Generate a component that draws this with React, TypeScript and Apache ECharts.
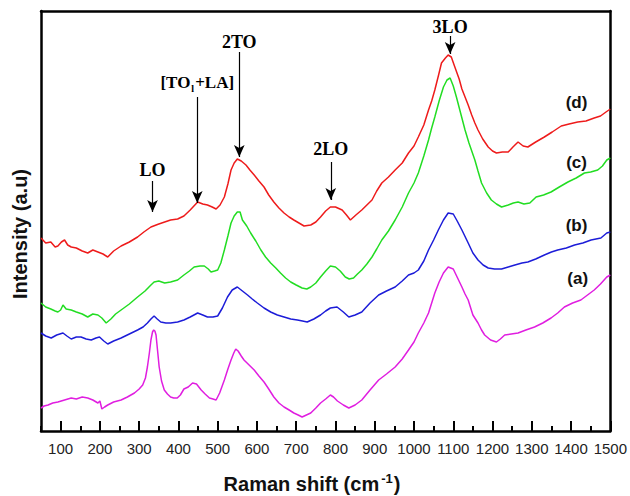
import React, { useEffect, useRef } from 'react';
import * as echarts from 'echarts';

// Raman shift (cm-1) vs. intensity (arbitrary units, curves offset vertically)
const curveD: number[][] = [[50,193],[62,188],[75,189],[86,184],[93,185],[102,189],[110,191],[118,186],[127,184],[140,183],[155,180],[169,178],[182,181],[195,179],[208,177],[220,174],[235,180],[254,185],[275,189],[296,194],[312,199],[330,204],[350,207],[365,209],[380,211],[398,212],[414,215],[430,221],[449,229],[462,227],[474,226],[486,224],[496,222],[506,226],[517,234],[526,247],[534,261],[542,268],[550,272],[560,270],[572,266],[582,261],[593,256],[605,250],[618,244],[630,236],[643,229],[656,223],[669,218],[682,214],[694,211],[707,208],[720,205],[737,206],[750,209],[762,214],[775,220],[787,224],[800,224],[817,221],[828,216],[838,211],[852,216],[867,221],[880,226],[893,231],[905,240],[918,248],[935,254],[952,261],[970,268],[986,278],[1000,285],[1011,294],[1025,306],[1037,321],[1045,330],[1053,341],[1062,355],[1070,368],[1080,373],[1087,376],[1095,374],[1104,364],[1115,352],[1122,342],[1130,334],[1138,326],[1147,316],[1155,308],[1163,301],[1175,292],[1189,284],[1200,280],[1210,278],[1225,279],[1240,279],[1252,284],[1265,289],[1278,285],[1290,284],[1310,289],[1332,294],[1352,299],[1375,305],[1395,307],[1417,309],[1438,310],[1459,313],[1475,315],[1489,319],[1500,322]];

const curveC: number[][] = [[50,128],[62,124],[75,122],[86,120],[93,119],[100,121],[106,126],[114,122],[127,121],[140,119],[155,117],[169,114],[182,117],[195,116],[205,113],[216,108],[228,112],[240,117],[254,121],[275,127],[296,134],[315,140],[330,146],[338,149],[350,150],[365,148],[380,149],[398,151],[414,156],[428,160],[440,164],[455,165],[466,165],[476,162],[483,159],[492,160],[500,161],[508,168],[517,181],[526,195],[534,208],[542,215],[550,219],[557,219],[563,211],[574,205],[584,198],[597,190],[610,181],[622,174],[635,168],[648,163],[660,158],[673,153],[686,149],[700,146],[715,143],[727,142],[737,144],[750,148],[762,154],[775,160],[787,165],[800,164],[812,160],[825,154],[835,152],[846,153],[856,157],[867,161],[880,167],[893,174],[905,182],[918,191],[935,200],[952,211],[970,224],[986,238],[1000,248],[1011,258],[1025,275],[1037,291],[1045,303],[1053,314],[1064,330],[1075,344],[1084,351],[1092,353],[1100,345],[1108,334],[1120,316],[1130,301],[1140,288],[1155,271],[1163,260],[1172,248],[1185,238],[1197,231],[1210,227],[1223,224],[1240,226],[1253,228],[1265,229],[1280,227],[1295,228],[1311,234],[1330,236],[1349,239],[1370,244],[1392,249],[1413,253],[1434,258],[1450,259],[1468,261],[1480,265],[1491,271],[1500,273]];

const curveB: number[][] = [[50,98],[62,95],[76,93],[90,96],[106,98],[116,95],[127,92],[140,94],[152,94],[165,92],[178,91],[190,93],[199,94],[210,90],[220,87],[235,90],[254,93],[275,97],[296,101],[310,104],[321,108],[330,112],[338,115],[346,112],[355,109],[368,108],[380,108],[398,109],[414,111],[430,114],[449,118],[462,116],[474,114],[488,114],[500,115],[512,123],[525,134],[537,141],[550,144],[563,140],[576,136],[588,132],[601,128],[618,123],[635,119],[652,116],[669,114],[686,112],[703,111],[716,110],[728,109],[745,112],[762,116],[775,120],[787,123],[804,124],[820,119],[834,114],[850,116],[867,119],[888,128],[910,136],[930,140],[952,144],[970,150],[986,156],[1000,158],[1011,161],[1025,170],[1037,181],[1050,191],[1062,201],[1075,211],[1087,218],[1100,217],[1110,210],[1122,201],[1138,188],[1150,178],[1163,171],[1176,166],[1189,163],[1205,162],[1223,162],[1240,164],[1257,166],[1275,168],[1290,169],[1310,172],[1332,176],[1350,179],[1366,181],[1388,183],[1409,186],[1430,188],[1451,191],[1476,193],[1491,198],[1500,199]];

const curveA: number[][] = [[50,23],[58,25],[68,26],[80,28],[93,29],[110,31],[127,33],[140,32],[155,34],[169,33],[182,31],[195,28],[200,30],[205,22],[212,24],[220,26],[235,29],[254,31],[270,34],[288,38],[300,42],[309,46],[316,53],[321,64],[326,78],[330,91],[334,99],[337,101],[340,100],[343,96],[347,80],[351,64],[357,50],[364,41],[372,37],[380,34],[388,33],[397,33],[405,36],[414,42],[425,44],[436,48],[446,47],[458,41],[468,37],[479,33],[488,32],[496,31],[505,38],[517,51],[526,62],[534,71],[541,78],[546,82],[552,80],[560,75],[567,71],[580,66],[593,61],[605,55],[618,49],[630,42],[643,34],[656,28],[669,24],[682,21],[694,18],[705,16],[715,14],[726,16],[737,18],[750,23],[762,28],[775,32],[787,36],[795,34],[805,30],[820,26],[834,23],[850,26],[867,31],[888,41],[910,51],[930,57],[952,64],[970,72],[986,81],[1000,89],[1011,98],[1025,108],[1037,118],[1045,128],[1053,138],[1064,149],[1075,158],[1087,164],[1100,162],[1111,153],[1122,144],[1130,137],[1138,131],[1150,116],[1163,108],[1172,101],[1180,96],[1195,91],[1210,89],[1220,92],[1231,96],[1248,97],[1265,98],[1285,101],[1307,104],[1328,108],[1349,113],[1366,118],[1383,124],[1404,128],[1425,131],[1442,136],[1459,141],[1475,147],[1491,154],[1500,156]];

const majorTickValues = [100, 200, 300, 400, 500, 600, 700, 800, 900, 1000, 1100, 1200, 1300, 1400, 1500];

const peakLabels = ['LO', '{a|[TO}{s|l}{a|+LA]}', '2TO', '2LO', '3LO'];
const peakX = [334, 448, 555, 788, 1092];
const peakTextY = [261, 349, 389, 282, 404];
const arrowTopY = [250, 334, 379, 269, 395];
const arrowTipY = [219, 228, 274, 231, 377];

const curveNames = ['(d)', '(c)', '(b)', '(a)'];
const curveNameX = [1414, 1414, 1414, 1417];
const curveNameY = [329, 269, 206, 153];

const SERIF = '"Liberation Serif", "Times New Roman", serif';
const SANS = '"Liberation Sans", Arial, sans-serif';

// y axis spans 420 units over a 420 px tall plot, so this length is in px
const MAJOR_TICK_LEN = 10;

export default function App() {
  const ref = useRef<HTMLDivElement>(null);
  useEffect(() => {
    if (!ref.current) return;
    const chart = echarts.init(ref.current, undefined, { renderer: 'svg' });
    const lineSeries = (name: string, data: number[][], color: string) => ({
      name,
      type: 'line',
      data,
      showSymbol: false,
      symbol: 'none',
      lineStyle: { color, width: 1.5 },
      silent: true,
    });
    const annotationText = {
      fontFamily: SERIF,
      fontWeight: 'bold',
      fontSize: 18,
      color: '#000',
    };
    const frameLine = { show: true, onZero: false, lineStyle: { color: '#000', width: 2.5 } };
    const hidden = {
      axisTick: { show: false },
      axisLabel: { show: false },
      splitLine: { show: false },
    };
    chart.setOption({
      animation: false,
      grid: { left: 41, top: 11, right: 19, bottom: 65 },
      xAxis: [
        {
          type: 'value',
          min: 50,
          max: 1500,
          interval: 50,
          axisLine: frameLine,
          axisTick: { show: true, inside: true, length: 5, lineStyle: { color: '#000', width: 2 } },
          axisLabel: {
            show: true,
            customValues: majorTickValues,
            formatter: (v: number) => String(v),
            fontFamily: SANS,
            fontSize: 15,
            color: '#222',
            margin: 10,
          },
          splitLine: { show: false },
        },
        { type: 'value', min: 50, max: 1500, position: 'top', axisLine: frameLine, ...hidden },
      ],
      yAxis: [
        { type: 'value', min: 0, max: 420, position: 'left', axisLine: frameLine, ...hidden },
        { type: 'value', min: 0, max: 420, position: 'right', axisLine: frameLine, ...hidden },
      ],
      series: [
        {
          ...lineSeries('(d)', curveD, '#ee1b1b'),
          markLine: {
            silent: true,
            symbol: ['none', 'arrow'],
            symbolSize: [8, 12],
            lineStyle: { color: '#000', width: 1.2, type: 'solid' },
            label: { show: false },
            data: peakX.map((x, i) => [
              { coord: [x, arrowTopY[i]] },
              { coord: [x, arrowTipY[i]] },
            ]),
          },
          markPoint: {
            silent: true,
            symbol: 'circle',
            symbolSize: 0,
            data: [
              ...peakX.map((x, i) => ({
                coord: [x, peakTextY[i]],
                label: {
                  show: true,
                  position: 'inside',
                  formatter: peakLabels[i],
                  ...annotationText,
                  fontSize: i === 1 ? 17 : 18,
                  rich: {
                    a: { ...annotationText, fontSize: 17 },
                    s: { ...annotationText, fontSize: 10, padding: [12, 1, 0, 1] },
                  },
                },
              })),
              ...curveNames.map((n, i) => ({
                coord: [curveNameX[i], curveNameY[i]],
                label: {
                  show: true,
                  position: 'inside',
                  formatter: n,
                  fontFamily: SANS,
                  fontWeight: 'bold',
                  fontSize: 17,
                  color: '#111',
                },
              })),
            ],
          },
        },
        lineSeries('(c)', curveC, '#22dd22'),
        lineSeries('(b)', curveB, '#1c1cd8'),
        {
          ...lineSeries('(a)', curveA, '#e01ee0'),
          markLine: {
            silent: true,
            symbol: ['none', 'none'],
            lineStyle: { color: '#000', width: 2, type: 'solid' },
            label: { show: false },
            data: majorTickValues.map((v) => [{ coord: [v, 0] }, { coord: [v, MAJOR_TICK_LEN] }]),
          },
        },
      ],
      graphic: [
        {
          type: 'text',
          x: 20,
          y: 234,
          rotation: Math.PI / 2,
          style: {
            text: 'Intensity (a.u)',
            fontFamily: SANS,
            fontWeight: 'bold',
            fontSize: 20,
            fill: '#111',
            textAlign: 'center',
            textVerticalAlign: 'middle',
          },
        },
        {
          type: 'text',
          x: 312,
          y: 484,
          style: {
            text: '{b|Raman shift (cm}{sup|-1}{b|)}',
            textAlign: 'center',
            textVerticalAlign: 'middle',
            rich: {
              b: { fontFamily: SANS, fontWeight: 'bold', fontSize: 20, fill: '#111' },
              sup: {
                fontFamily: SANS,
                fontWeight: 'bold',
                fontSize: 13,
                fill: '#111',
                padding: [0, 1, 12, 2],
              },
            },
          },
        },
      ],
    });
    return () => chart.dispose();
  }, []);
  return (
    <div
      ref={ref}
      style={{ position: 'fixed', left: 0, top: 0, width: 630, height: 496, background: '#fff' }}
    />
  );
}
